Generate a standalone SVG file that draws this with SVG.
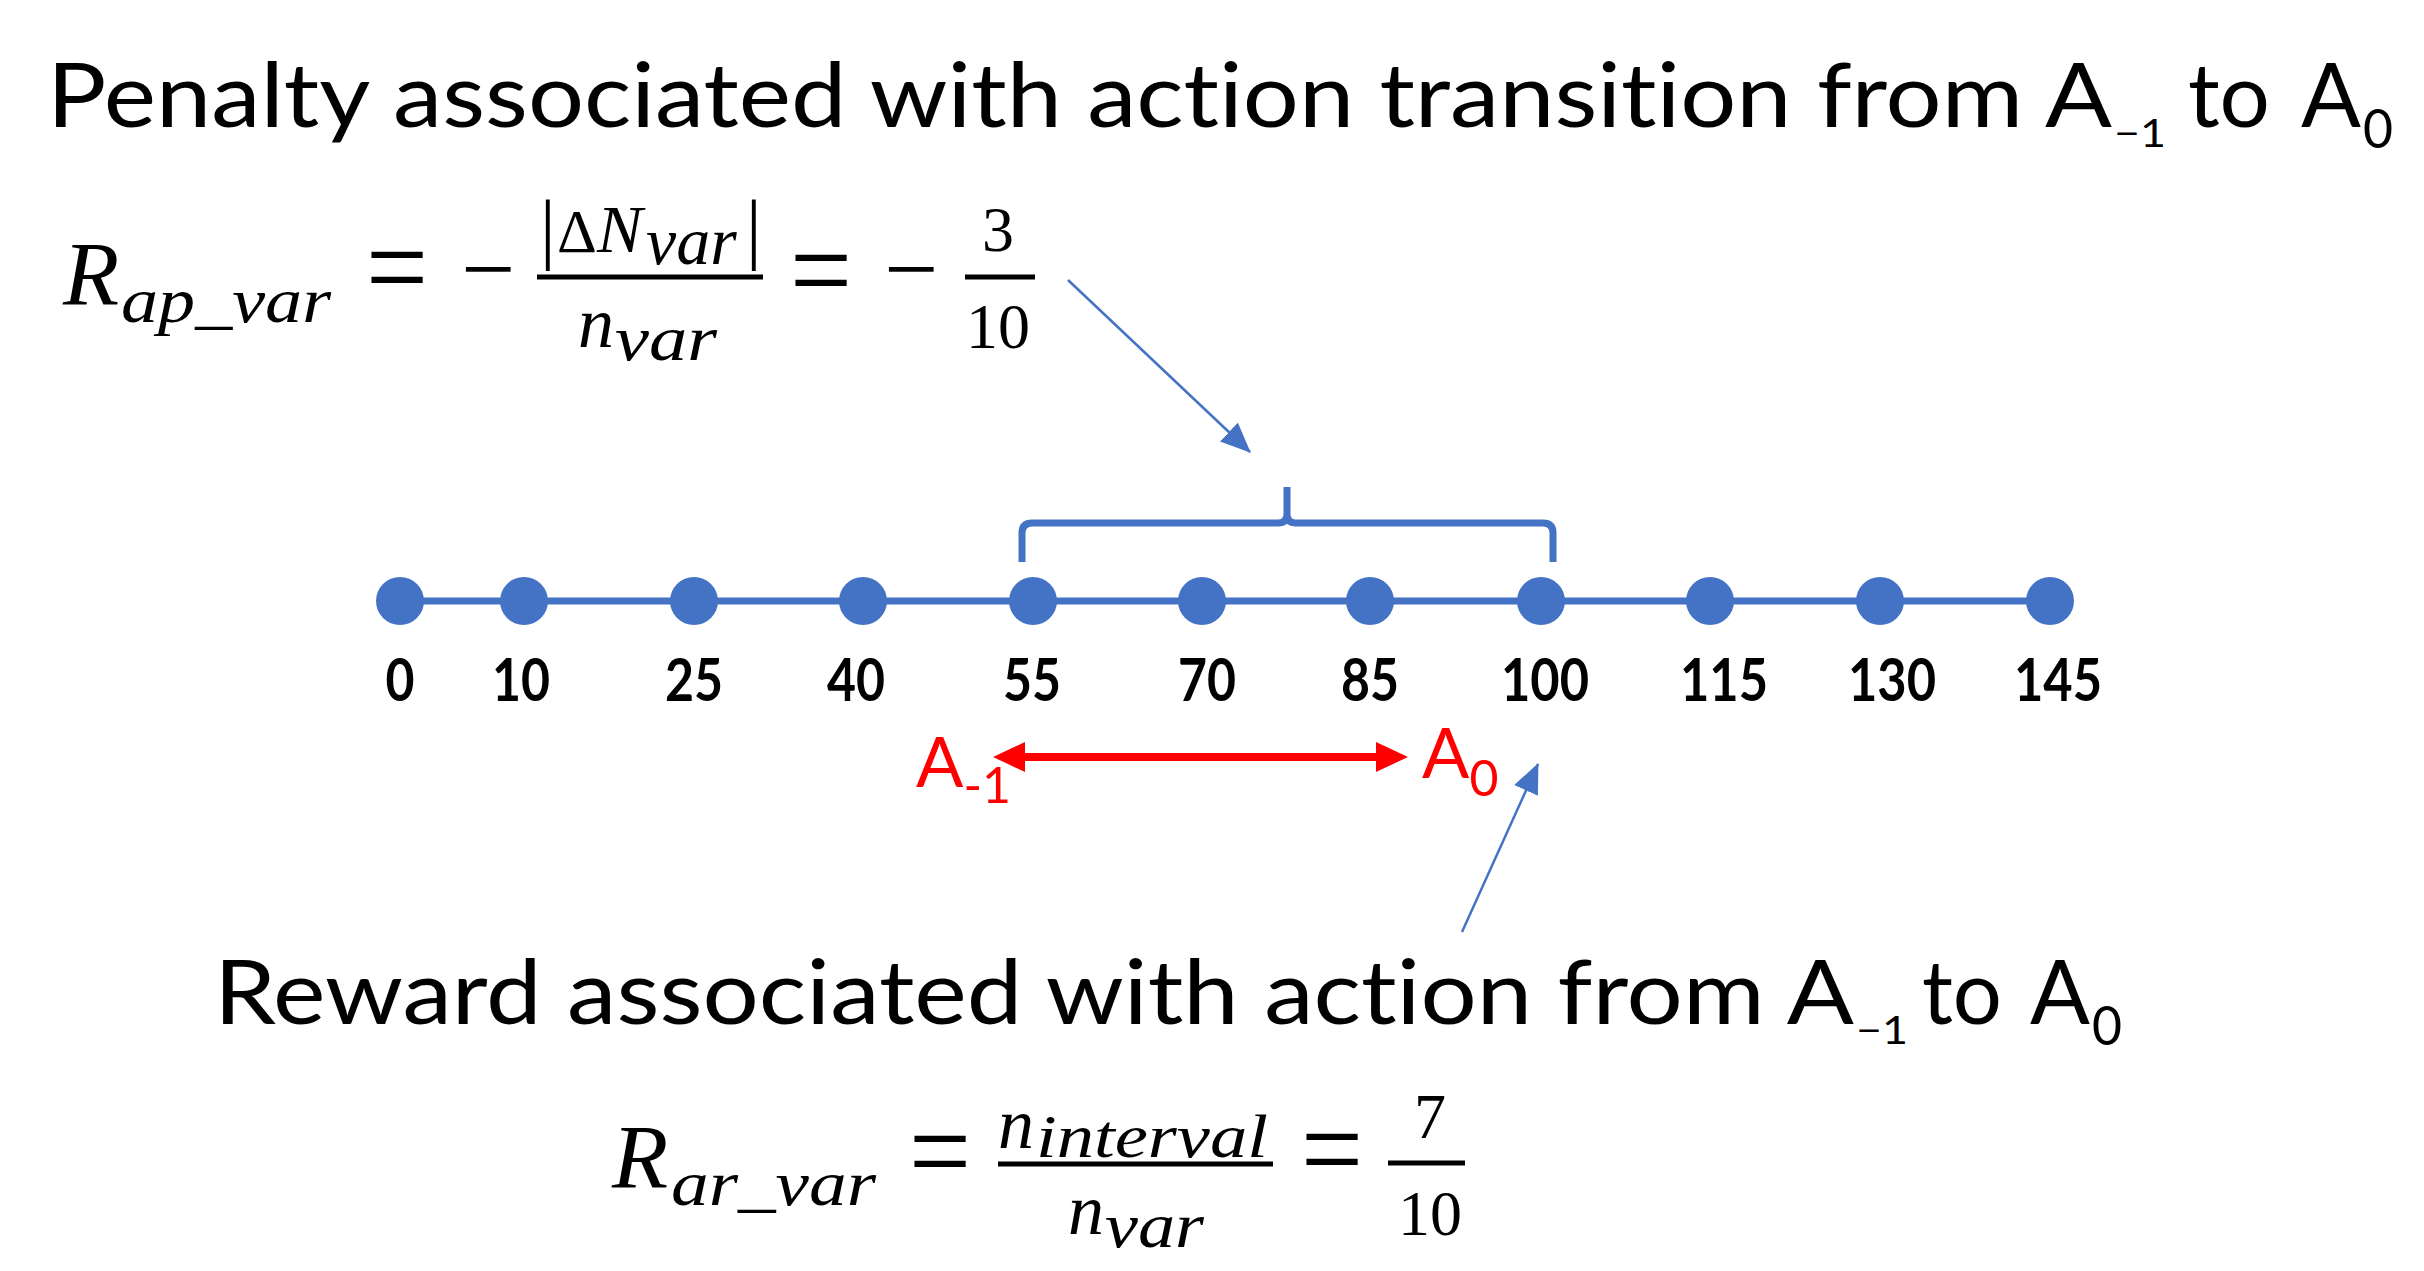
<svg xmlns="http://www.w3.org/2000/svg" width="2424" height="1271" viewBox="0 0 2424 1271">
<style>
text{font-variant-ligatures:none;}
.ttl{font-family:Lato,"Noto Sans",sans-serif;fill:#000;}
.num{font-family:Lato,"Noto Sans",sans-serif;font-weight:700;font-size:59px;text-anchor:middle;fill:#000;}
.red{font-family:Lato,"Noto Sans",sans-serif;fill:#FF0000;}
.mi{font-family:"Liberation Serif",serif;font-style:italic;fill:#000;}
.mn{font-family:"Liberation Serif",serif;fill:#000;}
.up{font-style:normal;}
.mid{text-anchor:middle;}
.bar{stroke:#000;stroke-width:5;}
.dot{fill:#4472C4;}
.thin{stroke:#4472C4;stroke-width:2.5;fill:none;}
</style>
<defs>
<marker id="blueHead" markerUnits="userSpaceOnUse" viewBox="0 0 30 26" markerWidth="30" markerHeight="26" refX="29" refY="13" orient="auto">
<path d="M0,0 L30,13 L0,26 Z" fill="#4472C4"/>
</marker>
<marker id="redHead" markerUnits="userSpaceOnUse" viewBox="0 0 32 30" markerWidth="32" markerHeight="30" refX="8" refY="15" orient="auto-start-reverse">
<path d="M0,0 L32,15 L0,30 Z" fill="#FF0000"/>
</marker>
</defs>
<rect width="2424" height="1271" fill="#FFFFFF"/>

<g id="title-penalty">
<text class="ttl" x="47" y="127" font-size="90" textLength="2065" lengthAdjust="spacingAndGlyphs">Penalty associated with action transition from A</text>
<text class="ttl" x="2114" y="147" font-size="38" textLength="52" lengthAdjust="spacingAndGlyphs">−1</text>
<text class="ttl" x="2188" y="127" font-size="90" textLength="82" lengthAdjust="spacingAndGlyphs">to</text>
<text class="ttl" x="2301" y="127" font-size="90" textLength="60" lengthAdjust="spacingAndGlyphs">A</text>
<text class="ttl" x="2363" y="148" font-size="54" textLength="30" lengthAdjust="spacingAndGlyphs">0</text>
</g>

<g id="formula-penalty">
<text class="mi" x="63" y="305" font-size="92">R</text>
<text class="mi" x="121" y="322" font-size="64" textLength="210" lengthAdjust="spacingAndGlyphs">ap_var</text>
<text class="mn mid" transform="translate(397,309) scale(1.1,1.25)" font-size="100">=</text>
<text class="mn mid" x="488" y="301" font-size="96">−</text>
<line class="bar" x1="537" y1="277" x2="763" y2="277"/>
<text class="mi" y="252" font-size="68"><tspan class="up" x="540" font-size="78" dy="2">|</tspan><tspan class="up" x="557" font-size="62" dy="-2">Δ</tspan><tspan x="597">N</tspan><tspan x="646" dy="12">var</tspan><tspan class="up" x="746" font-size="78" dy="-10">|</tspan></text>
<text class="mi" x="578" y="347" font-size="72">n</text>
<text class="mi" x="615" y="360" font-size="64" textLength="102" lengthAdjust="spacingAndGlyphs">var</text>
<text class="mn mid" transform="translate(821,312) scale(1.1,1.25)" font-size="100">=</text>
<text class="mn mid" x="911" y="301" font-size="96">−</text>
<line class="bar" x1="965" y1="277" x2="1035" y2="277"/>
<text class="mn mid" x="998" y="251" font-size="64">3</text>
<text class="mn mid" x="998" y="348" font-size="64">10</text>
</g>

<g id="number-line">
<line x1="400" y1="601" x2="2050" y2="601" stroke="#4472C4" stroke-width="7"/>
<circle class="dot" cx="400" cy="601" r="24"/>
<circle class="dot" cx="524" cy="601" r="24"/>
<circle class="dot" cx="694" cy="601" r="24"/>
<circle class="dot" cx="863" cy="601" r="24"/>
<circle class="dot" cx="1033" cy="601" r="24"/>
<circle class="dot" cx="1202" cy="601" r="24"/>
<circle class="dot" cx="1370" cy="601" r="24"/>
<circle class="dot" cx="1541" cy="601" r="24"/>
<circle class="dot" cx="1710" cy="601" r="24"/>
<circle class="dot" cx="1880" cy="601" r="24"/>
<circle class="dot" cx="2050" cy="601" r="24"/>
<text class="num" x="400" y="701" textLength="29" lengthAdjust="spacingAndGlyphs">0</text>
<text class="num" x="521" y="701" textLength="58" lengthAdjust="spacingAndGlyphs">10</text>
<text class="num" x="694" y="701" textLength="58" lengthAdjust="spacingAndGlyphs">25</text>
<text class="num" x="856" y="701" textLength="58" lengthAdjust="spacingAndGlyphs">40</text>
<text class="num" x="1032" y="701" textLength="58" lengthAdjust="spacingAndGlyphs">55</text>
<text class="num" x="1207" y="701" textLength="58" lengthAdjust="spacingAndGlyphs">70</text>
<text class="num" x="1370" y="701" textLength="58" lengthAdjust="spacingAndGlyphs">85</text>
<text class="num" x="1545" y="701" textLength="88" lengthAdjust="spacingAndGlyphs">100</text>
<text class="num" x="1724" y="701" textLength="88" lengthAdjust="spacingAndGlyphs">115</text>
<text class="num" x="1892" y="701" textLength="88" lengthAdjust="spacingAndGlyphs">130</text>
<text class="num" x="2058" y="701" textLength="88" lengthAdjust="spacingAndGlyphs">145</text>
</g>

<g id="brace">
<path d="M1022,562 L1022,533 Q1022,523 1032,523 L1278,523 Q1287,523 1287,514 L1287,487 M1287,514 Q1287,523 1296,523 L1543,523 Q1553,523 1553,533 L1553,562" fill="none" stroke="#4472C4" stroke-width="7"/>
</g>

<g id="label-a-1">
<text class="red" x="916" y="787" font-size="70">A<tspan dy="16" font-size="50">-1</tspan></text>
</g>
<g id="label-a0">
<text class="red" x="1422" y="778" font-size="70">A<tspan dy="18" font-size="50">0</tspan></text>
</g>

<g id="connectors">
<line x1="1017" y1="757" x2="1384" y2="757" stroke="#FF0000" stroke-width="8" marker-start="url(#redHead)" marker-end="url(#redHead)"/>
<line class="thin" x1="1068" y1="280" x2="1250" y2="452" marker-end="url(#blueHead)"/>
<line class="thin" x1="1462" y1="932" x2="1538" y2="764" marker-end="url(#blueHead)"/>
</g>

<g id="title-reward">
<text class="ttl" x="214" y="1024" font-size="90" textLength="1640" lengthAdjust="spacingAndGlyphs">Reward associated with action from A</text>
<text class="ttl" x="1856" y="1044" font-size="38" textLength="52" lengthAdjust="spacingAndGlyphs">−1</text>
<text class="ttl" x="1922" y="1024" font-size="90" textLength="80" lengthAdjust="spacingAndGlyphs">to</text>
<text class="ttl" x="2030" y="1024" font-size="90" textLength="60" lengthAdjust="spacingAndGlyphs">A</text>
<text class="ttl" x="2092" y="1045" font-size="54" textLength="30" lengthAdjust="spacingAndGlyphs">0</text>
</g>

<g id="formula-reward">
<text class="mi" x="612" y="1188" font-size="92">R</text>
<text class="mi" x="671" y="1205" font-size="64" textLength="205" lengthAdjust="spacingAndGlyphs">ar_var</text>
<text class="mn mid" transform="translate(940,1193) scale(1.1,1.25)" font-size="100">=</text>
<line class="bar" x1="998" y1="1164" x2="1273" y2="1164"/>
<text class="mi" x="998" y="1148" font-size="72">n</text>
<text class="mi" x="1036" y="1157" font-size="62" textLength="232" lengthAdjust="spacingAndGlyphs">interval</text>
<text class="mi" x="1068" y="1234" font-size="72">n</text>
<text class="mi" x="1105" y="1247" font-size="64" textLength="99" lengthAdjust="spacingAndGlyphs">var</text>
<text class="mn mid" transform="translate(1332,1191) scale(1.1,1.25)" font-size="100">=</text>
<line class="bar" x1="1388" y1="1163" x2="1465" y2="1163"/>
<text class="mn mid" x="1430" y="1138" font-size="64">7</text>
<text class="mn mid" x="1430" y="1235" font-size="64">10</text>
</g>
</svg>
